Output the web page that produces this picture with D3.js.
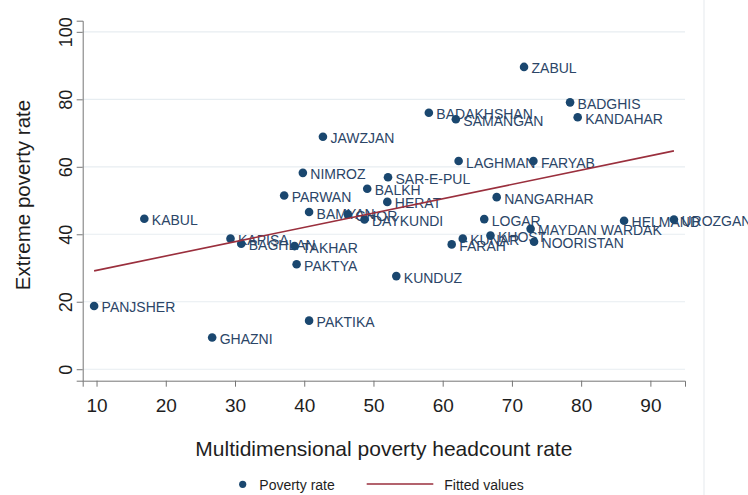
<!DOCTYPE html>
<html>
<head>
<meta charset="utf-8">
<script src="https://cdn.jsdelivr.net/npm/d3@7"></script>
<style>
  body { margin: 0; background: #fff; }
  svg { display: block; font-family: "Liberation Sans", Arial, sans-serif; }
</style>
</head>
<body>
<svg id="chart" width="748" height="495"></svg>
<script>
// Province-level poverty measures
const provinces = [
  "PANJSHER", "KABUL", "GHAZNI", "KAPISA", "BAGHLAN", "PARWAN", "TAKHAR", "PAKTYA",
  "NIMROZ", "BAMYAN", "PAKTIKA", "JAWZJAN", "GHOR", "DAYKUNDI", "BALKH", "HERAT",
  "SAR-E-PUL", "KUNDUZ", "BADAKHSHAN", "FARAH", "SAMANGAN", "LAGHMAN", "KUNAR", "LOGAR",
  "KHOST", "NANGARHAR", "ZABUL", "MAYDAN WARDAK", "FARYAB", "NOORISTAN", "BADGHIS",
  "KANDAHAR", "HELMAND", "UROZGAN"
];
const mpiRate = [
  9.65, 16.9, 26.7, 29.35, 30.9, 37.1, 38.6, 38.9,
  39.8, 40.7, 40.7, 42.7, 46.3, 48.7, 49.1, 52.0,
  52.1, 53.3, 58.0, 61.3, 61.9, 62.3, 62.9, 66.0,
  66.9, 67.8, 71.75, 72.7, 73.1, 73.2, 78.4,
  79.5, 86.2, 93.4
];
const extremeRate = [
  18.75, 44.6, 9.4, 38.7, 37.2, 51.5, 36.5, 31.1,
  58.2, 46.6, 14.4, 68.9, 45.9, 44.4, 53.5, 49.6,
  56.9, 27.6, 76.0, 37.0, 74.1, 61.7, 38.7, 44.5,
  39.6, 51.0, 89.6, 41.6, 61.7, 37.8, 79.1,
  74.7, 44.0, 44.4
];

// Linear fit endpoints (over the range of the x data)
const fitX = [9.65, 93.4];
const fitY = [29.16, 64.71];

const xTicks = [10, 20, 30, 40, 50, 60, 70, 80, 90];
const yTicks = [0, 20, 40, 60, 80, 100];
const xTitle = "Multidimensional poverty headcount rate";
const yTitle = "Extreme poverty rate";
const legendLabels = ["Poverty rate", "Fitted values"];

const navy = "#1a476f";
const labelColor = "#2b4567";
const maroon = "#9a2f3d";
const gridColor = "#e7edf1";
const axisColor = "#767676";

const svg = d3.select("#chart");

const x = d3.scaleLinear().domain([8, 95]).range([82.7, 685]);
const y = d3.scaleLinear().domain([-3.4, 103.3]).range([380.7, 20.7]);

// faint right edge of the graph region
svg.append("line")
  .attr("x1", 704).attr("x2", 704).attr("y1", 0).attr("y2", 495)
  .attr("stroke", "#eef0f3").attr("stroke-width", 1.5);

// horizontal gridlines
svg.append("g").selectAll("line").data(yTicks).join("line")
  .attr("x1", x.range()[0]).attr("x2", x.range()[1])
  .attr("y1", d => y(d)).attr("y2", d => y(d))
  .attr("stroke", gridColor).attr("stroke-width", 1.2);

// y axis
const yAxis = svg.append("g")
  .attr("transform", `translate(${x.range()[0]},0)`)
  .call(d3.axisLeft(y).tickValues(yTicks).tickSize(6).tickPadding(4).tickFormat(d3.format("d")));
yAxis.select(".domain").attr("stroke", axisColor);
yAxis.selectAll(".tick line").attr("stroke", axisColor);
yAxis.selectAll(".tick text")
  .attr("font-size", 18).attr("fill", "#1e1e1e").attr("font-family", null)
  .attr("text-anchor", "middle").attr("dy", 0).attr("x", null)
  .attr("transform", "translate(-10.7,0) rotate(-90)");

// x axis
const xAxis = svg.append("g")
  .attr("transform", `translate(0,${y.range()[0]})`)
  .call(d3.axisBottom(x).tickValues(xTicks).tickSize(6).tickPadding(4).tickFormat(d3.format("d")));
xAxis.select(".domain").attr("stroke", axisColor);
xAxis.selectAll(".tick line").attr("stroke", axisColor);
xAxis.selectAll(".tick text")
  .attr("font-size", 19).attr("fill", "#1e1e1e").attr("font-family", null)
  .attr("dy", 0).attr("y", 31.3);

// axis titles
svg.append("text")
  .attr("x", (x.range()[0] + x.range()[1]) / 2).attr("y", 456)
  .attr("text-anchor", "middle").attr("font-size", 21).attr("fill", "#1e1e1e")
  .text(xTitle);
svg.append("text")
  .attr("transform", "translate(30,195) rotate(-90)")
  .attr("text-anchor", "middle").attr("font-size", 20.5).attr("fill", "#1e1e1e")
  .text(yTitle);

// scatter markers with province labels
const pts = provinces.map((p, i) => ({ name: p, mx: mpiRate[i], ex: extremeRate[i] }));
const pg = svg.append("g");
pts.forEach(d => {
  pg.append("circle")
    .attr("cx", x(d.mx)).attr("cy", y(d.ex)).attr("r", 4.3)
    .attr("fill", navy);
  pg.append("text")
    .attr("x", x(d.mx) + 7.5).attr("y", y(d.ex) + 6.5)
    .attr("font-size", 14).attr("fill", labelColor)
    .text(d.name);
});

// fitted line
svg.append("path")
  .datum(fitX.map((v, i) => [v, fitY[i]]))
  .attr("d", d3.line().x(d => x(d[0])).y(d => y(d[1])))
  .attr("fill", "none").attr("stroke", maroon).attr("stroke-width", 1.6);

// legend
const lg = svg.append("g");
lg.append("circle").attr("cx", 242.7).attr("cy", 484.3).attr("r", 3.6).attr("fill", navy);
lg.append("text").attr("x", 259.3).attr("y", 490).attr("font-size", 14).attr("fill", "#1e1e1e")
  .text(legendLabels[0]);
lg.append("line").attr("x1", 366.7).attr("x2", 433.3).attr("y1", 484).attr("y2", 484)
  .attr("stroke", maroon).attr("stroke-width", 1.6);
lg.append("text").attr("x", 444.3).attr("y", 490).attr("font-size", 14).attr("fill", "#1e1e1e")
  .text(legendLabels[1]);
</script>
</body>
</html>
